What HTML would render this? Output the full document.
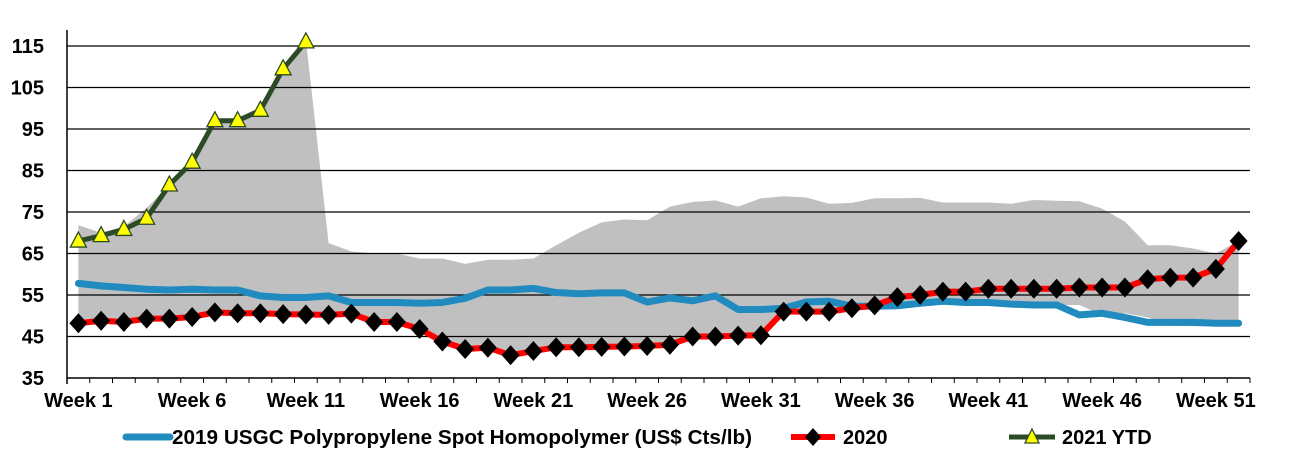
<!DOCTYPE html>
<html><head><meta charset="utf-8"><style>
body{margin:0;background:#fff;}
svg{display:block;font-family:"Liberation Sans",Arial,sans-serif;font-weight:bold;}
</style></head><body>
<svg id="chart" width="1293" height="456"></svg>
<script>
const weeks=[];for(let i=1;i<=52;i++)weeks.push('Week '+i);
const yTicks=[35,45,55,65,75,85,95,105,115];
const xTickLabels=['Week 1','Week 6','Week 11','Week 16','Week 21','Week 26','Week 31','Week 36','Week 41','Week 46','Week 51'];
const s2019=[57.8,57.2,56.8,56.4,56.2,56.4,56.2,56.2,54.8,54.4,54.4,54.8,53.2,53.2,53.2,53,53.2,54.2,56.2,56.2,56.6,55.6,55.3,55.5,55.5,53.3,54.3,53.6,54.8,51.5,51.5,51.8,53.3,53.5,52.3,52.3,52.4,53,53.5,53.2,53.2,52.8,52.6,52.6,50.2,50.6,49.6,48.4,48.4,48.4,48.2,48.2];
const s2020=[48.2,48.8,48.5,49.3,49.3,49.7,50.8,50.6,50.6,50.4,50.3,50.2,50.5,48.5,48.5,46.8,43.8,42,42.3,40.5,41.5,42.4,42.4,42.5,42.6,42.7,43,45,45,45.2,45.3,51,51,51,51.8,52.5,54.5,55,55.8,55.8,56.5,56.5,56.5,56.5,56.8,56.8,56.8,58.8,59.2,59.2,61.3,68];
const s2021=[68,69.3,70.8,73.5,81.5,87,97,97,99.5,109.5,116];
const bandHigh=[71.8,70,71.5,76,81.5,87,97,97,99.5,109.5,116.5,67.5,65.5,65,65,63.8,63.8,62.5,63.5,63.5,63.8,67,70,72.5,73.2,73,76.3,77.4,77.8,76.3,78.3,78.8,78.5,77,77.2,78.3,78.3,78.4,77.3,77.3,77.3,77,77.9,77.7,77.6,75.8,72.7,67,67,66.2,65,68];
const bandLow=[48.2,48.8,48.5,49.3,49.3,49.7,50.8,50.6,50.6,50.4,50.3,50.2,50.5,48.5,48.5,46.8,43.8,42,42.3,40.5,41.5,42.4,42.4,42.5,42.6,42.7,43,45,45,45.2,45.3,51,51,51,51.8,52.3,52.3,52.4,53,53.5,53.2,53.2,52.8,52.6,52.6,50.2,50.6,49.6,47.6,47.5,47.5,47.5];

const NS='http://www.w3.org/2000/svg';
const svg=document.getElementById('chart');
const L=67,R=1250,T=30,B=378,yMin=35,yMax=115,Y115=46;
const cw=(R-L)/52;
function x(i){return L+(i+0.5)*cw;}
function y(v){return B-(v-yMin)/(yMax-yMin)*(B-Y115);}
function mk(tag,attrs,parent){const e=document.createElementNS(NS,tag);for(const k in attrs)e.setAttribute(k,attrs[k]);(parent||svg).appendChild(e);return e;}

let d='M'+bandHigh.map((v,i)=>x(i)+','+y(v)).join('L');
for(let i=bandLow.length-1;i>=0;i--)d+='L'+x(i)+','+y(bandLow[i]);
const band=mk('path',{d:d+'Z',fill:'#c0c0c0'});



yTicks.forEach(v=>{
  if(v>yMin){const g=mk('line',{x1:L,x2:R,y1:y(v),y2:y(v),stroke:'#000','stroke-width':1.3});
  
  }
  const t=mk('text',{x:44,y:y(v)+7,'text-anchor':'end','font-size':20});t.textContent=v;
  
  
});
const ya=mk('line',{x1:L,x2:L,y1:T,y2:B+6,stroke:'#000','stroke-width':1.5});


const xa=mk('line',{x1:L,x2:R,y1:B,y2:B,stroke:'#000','stroke-width':1.5});


for(let i=0;i<=52;i++){const tk=mk('line',{x1:L+i*cw,x2:L+i*cw,y1:B,y2:B+5,stroke:'#000','stroke-width':1});

}
xTickLabels.forEach(lbl=>{const i=weeks.indexOf(lbl);
  const t=mk('text',{x:x(i),y:407,'text-anchor':'middle','font-size':20});t.textContent=lbl;
  
  });

function line(arr,color,w,name){const p=mk('polyline',{points:arr.map((v,i)=>x(i)+','+y(v)).join(' '),fill:'none',stroke:color,'stroke-width':w,'stroke-linejoin':'round','stroke-linecap':'round'});

}
line(s2019,'#218bbf',7,'line-2019');
line(s2020,'#ff0000',6,'line-2020');
s2020.forEach((v,i)=>{const cx=x(i),cy=y(v);
  const m=mk('polygon',{points:`${cx},${cy-10} ${cx+9},${cy} ${cx},${cy+10} ${cx-9},${cy}`,fill:'#000'});
  
  });
line(s2021,'#2c4a25',5,'line-2021');
s2021.forEach((v,i)=>{const cx=x(i),cy=y(v);
  const m=mk('polygon',{points:`${cx},${cy-9} ${cx+8},${cy+6} ${cx-8},${cy+6}`,fill:'#ffff00',stroke:'#2c4a25','stroke-width':1.3});
  
  });

const lg=mk('g',{});


mk('line',{x1:126,x2:170,y1:437,y2:437,stroke:'#218bbf','stroke-width':7,'stroke-linecap':'round'},lg);
let t1=mk('text',{x:172,y:444,'font-size':20,textLength:580,lengthAdjust:'spacingAndGlyphs'},lg);t1.textContent='2019 USGC Polypropylene Spot Homopolymer (US$ Cts/lb)';


mk('line',{x1:791,x2:835,y1:437,y2:437,stroke:'#ff0000','stroke-width':6},lg);
mk('polygon',{points:'813,428 821,437 813,446 805,437',fill:'#000'},lg);
let t2=mk('text',{x:843,y:444,'font-size':20},lg);t2.textContent='2020';


mk('line',{x1:1009,x2:1055,y1:437,y2:437,stroke:'#2c4a25','stroke-width':5},lg);
mk('polygon',{points:'1032,429 1039,443 1025,443',fill:'#ffff00',stroke:'#2c4a25','stroke-width':1.3},lg);
let t3=mk('text',{x:1062,y:444,'font-size':20},lg);t3.textContent='2021 YTD';


</script>
</body></html>
